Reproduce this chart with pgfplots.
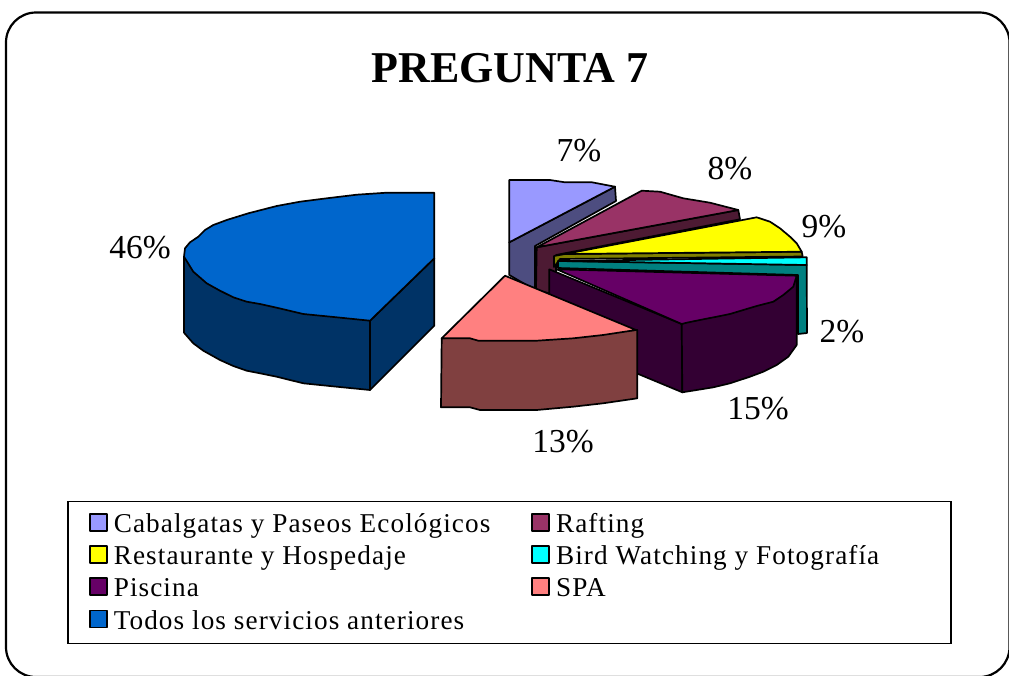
\documentclass[border=0pt]{standalone}
\usepackage{pgfplots}
\pgfplotsset{compat=1.18}
\usepackage{fontspec}
\setmainfont{Liberation Serif}
\newfontfamily\legfont[LetterSpace=4.0]{Liberation Serif}
\definecolor{lavT}{HTML}{9999FF}\definecolor{lavS}{HTML}{4D4D80}
\definecolor{marT}{HTML}{993366}\definecolor{marS}{HTML}{4D1A33}
\definecolor{yelT}{HTML}{FFFF00}\definecolor{yelS}{HTML}{808000}
\definecolor{cyaT}{HTML}{00FFFF}\definecolor{cyaS}{HTML}{008080}
\definecolor{purT}{HTML}{660066}\definecolor{purS}{HTML}{330033}
\definecolor{pinT}{HTML}{FF8080}\definecolor{pinS}{HTML}{804040}
\definecolor{bluT}{HTML}{0066CC}\definecolor{bluS}{HTML}{003366}
\begin{document}
\begin{tikzpicture}
\begin{axis}[
  name=ax, scale only axis, width=1009pt, height=675pt,
  xmin=0, xmax=1009, ymin=0, ymax=675, y dir=reverse,
  hide axis, clip mode=global,
  legend columns=2,
  legend cell align=left,
  legend image code/.code={\draw[#1,line width=1.6pt] (0pt,1.5pt) rectangle (17pt,18.5pt);\path[draw=none,fill=none] (0pt,0pt)--(22pt,0pt);},
  legend style={
    at={(axis cs:89,507.5)}, anchor=north west, draw=none, fill=none,
    font=\fontsize{27.2}{27.5}\legfont, row sep=0pt,
    inner sep=0pt, outer sep=0pt,
    nodes={inner ysep=0pt, inner xsep=2pt, minimum height=32.2pt, anchor=base west},
    /tikz/column 2/.style={column sep=39pt},
  },
  every axis plot/.append style={line width=1.7pt, draw=black, line join=round},
]
\draw[line width=2.2pt, rounded corners=30pt] (axis cs:6,12.5) rectangle (axis cs:1009.5,677);
\draw[line width=1.9pt] (axis cs:68,501.5) rectangle (axis cs:951,643.5);

% Cabalgatas
\addplot[fill=lavS, forget plot] coordinates {(509.3,242.3)(615,186.7)(616,201)(535,246)(535,290)(509.3,275)} --cycle;
\addplot[fill=lavT] coordinates {(509.3,180)(550,180)(565,182.3)(592,182.3)(615,186.7)(509.3,242.3)} --cycle;
\addlegendentry{Cabalgatas y Paseos Ecológicos}
% Rafting
\addplot[fill=marS, forget plot] coordinates {(536.7,247.3)(738.3,210)(740,219.3)(556,255)(556,295)(536,290)} --cycle;
\addplot[fill=marT] coordinates {(641.7,190.7)(660,191.7)(683.3,198.3)(710,202.7)(738.3,210)(536.7,247.3)} --cycle;
\addlegendentry{Rafting}
% Restaurante
\addplot[fill=yelS, forget plot] coordinates {(554,256)(565,254)(801.7,251.7)(802.7,256.5)(560,259)(554,267)} --cycle;
\addplot[fill=yelT] coordinates {(756.7,217.3)(770,221.7)(780,228.3)(790,236.7)(796.7,243.3)(801.7,251.7)(565,254)} --cycle;
\addlegendentry{Restaurante y Hospedaje}
% Bird Watching
\addplot[fill=cyaS, forget plot] coordinates {(558,261)(806.7,265)(807,333)(798,334)(798,275)(558,268)} --cycle;
\addplot[fill=cyaT] coordinates {(563,261)(806.7,257.3)(806.7,265)} --cycle;
\addlegendentry{Bird Watching y Fotografía}
% Piscina
\addplot[fill=purS, forget plot] coordinates {(549.3,269.3)(681.7,324)(682.3,392.3)(549.3,337)} --cycle;
\addplot[fill=purS, forget plot] coordinates {(796.7,275.7)(796.7,345)(788.3,356.7)(776.7,365)(763.3,371.7)(750,376.7)(730,383.3)(713.3,387.3)(696.7,390)(682.3,392.3)(681.7,324)} --cycle;
\addplot[fill=purT] coordinates {(556.7,269.3)(796.7,275.7)(793.3,286.7)(783.3,295)(773.3,301.7)(756.7,306)(743.3,310)(730,314)(716.7,316.7)(703.3,319.3)(686.7,322.7)(681.7,324)} --cycle;
\addlegendentry{Piscina}
% SPA
\addplot[fill=pinS, forget plot] coordinates {(441.7,338.3)(441,407.3)(470,407.3)(480,410)(536.7,410)(573,406.7)(603,403.3)(637.3,398.3)(637.3,330)} --cycle;
\addplot[fill=pinT] coordinates {(505,275.7)(636,330)(603,335)(573.3,338.3)(536.7,340.7)(478.3,340.7)(470,338.3)(441.7,338.3)} --cycle;
\addlegendentry{SPA}
% Todos
\addplot[fill=bluS, forget plot] coordinates {(184,256.7)(184,332.7)(193.3,343.3)(203.3,350.7)(220,360)(233.3,366)(246.7,370.7)(260,373.3)(276.7,376.7)(303.3,383.3)(336.7,386.7)(370,390)(370,320.7)} --cycle;
\addplot[fill=bluS, forget plot] coordinates {(370,320.7)(370,390)(434.3,325.7)(434.3,258.3)} --cycle;
\addplot[fill=bluT] coordinates {(434.3,192.7)(386.7,192.7)(356.7,194.7)(326.7,198.3)(300,201.7)(276.7,206)(248.3,213.3)(226.7,220)(213.3,225)(205,230)(198.3,236.7)(190,242.3)(185,248.3)(184,256.7)(193.3,271.7)(206.7,283.3)(220,290.7)(233.3,297.3)(246.7,301.7)(260,304)(276.7,307.7)(303.3,314)(336.7,317.3)(370,320.7)(434.3,258.3)} --cycle;
\addlegendentry{Todos los servicios anteriores}

\node[font=\fontsize{44}{46}\selectfont\bfseries] at (axis cs:510,68) {PREGUNTA 7};
\begin{scope}[every node/.style={font=\fontsize{33.5}{35}\selectfont}]
\node at (axis cs:579,151) {7\%};
\node at (axis cs:730,169) {8\%};
\node at (axis cs:824,227) {9\%};
\node at (axis cs:842,332) {2\%};
\node at (axis cs:758,409) {15\%};
\node at (axis cs:563,442) {13\%};
\node at (axis cs:140,248) {46\%};
\end{scope}
\end{axis}
\pgfresetboundingbox
\useasboundingbox (ax.south west) rectangle (ax.north east);
\end{tikzpicture}
\end{document}
